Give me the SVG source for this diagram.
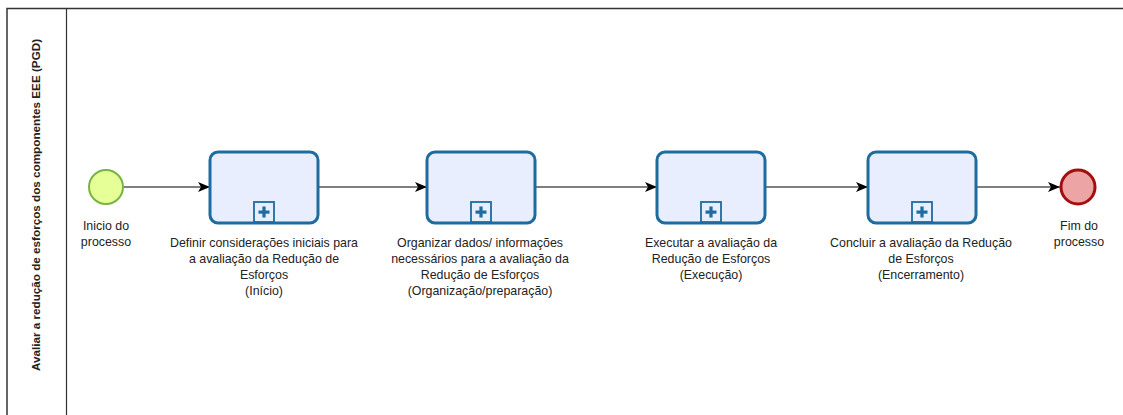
<svg xmlns="http://www.w3.org/2000/svg" width="1123" height="415" viewBox="0 0 1123 415">
<style>
.lbl{font-family:"Liberation Sans",Arial,sans-serif;font-size:12.4px;fill:#222;text-anchor:middle}
.task{fill:#e8eefd;stroke:#1e6b9e;stroke-width:3}
.mk{fill:#e8eefd;stroke:#1e6b9e;stroke-width:1.8}
.plus{fill:#1e6b9e}
.flow{stroke:#000;stroke-width:1.2;fill:none;marker-end:url(#arr)}
</style>
<defs>
<marker id="arr" viewBox="0 0 12 10" refX="12" refY="5" markerWidth="12" markerHeight="10" markerUnits="userSpaceOnUse" orient="auto">
<path d="M0,0 L12,5 L0,10 L3,5 Z" fill="#000"/>
</marker>
<g id="sub">
<rect class="mk" x="-10" y="-21" width="20" height="20"/>
<rect class="plus" x="-5.5" y="-12.5" width="11" height="3.2"/>
<rect class="plus" x="-1.6" y="-16.5" width="3.2" height="11"/>
</g>
</defs>
<rect width="1123" height="415" fill="#fff"/>
<g id="pool">
<path d="M7,415 V8.5 H1123" fill="none" stroke="#333" stroke-width="1.5"/>
<line x1="66.5" y1="8.5" x2="66.5" y2="415" stroke="#333" stroke-width="1.2"/>
<text transform="translate(40,205) rotate(-90)" style="font-family:'Liberation Sans',Arial,sans-serif;font-size:11.7px;font-weight:bold;fill:#222;text-anchor:middle">Avaliar a redução de esforços dos componentes EEE (PGD)</text>
</g>
<g id="connectors">
<line class="flow" x1="124" y1="187" x2="210" y2="187"/>
<line class="flow" x1="318" y1="187" x2="427" y2="187"/>
<line class="flow" x1="535" y1="187" x2="657" y2="187"/>
<line class="flow" x1="765" y1="187" x2="868" y2="187"/>
<line class="flow" x1="976" y1="187" x2="1060" y2="187"/>
</g>
<g id="start">
<circle cx="106" cy="187" r="17" fill="#e6ff97" stroke="#78b443" stroke-width="2"/>
<text class="lbl" x="106" y="230">Inicio do</text>
<text class="lbl" x="106" y="246">processo</text>
</g>
<g id="task1">
<rect class="task" x="210" y="152" width="108" height="71" rx="8"/>
<use href="#sub" x="264" y="223"/>
<text class="lbl" x="264" y="247">Definir considerações iniciais para</text>
<text class="lbl" x="264" y="263">a avaliação da Redução de</text>
<text class="lbl" x="264" y="279">Esforços</text>
<text class="lbl" x="264" y="295">(Início)</text>
</g>
<g id="task2">
<rect class="task" x="427" y="152" width="108" height="71" rx="8"/>
<use href="#sub" x="481" y="223"/>
<text class="lbl" x="480" y="247">Organizar dados/ informações</text>
<text class="lbl" x="480" y="263">necessários para a avaliação da</text>
<text class="lbl" x="480" y="279">Redução de Esforços</text>
<text class="lbl" x="480" y="295">(Organização/preparação)</text>
</g>
<g id="task3">
<rect class="task" x="657" y="152" width="108" height="71" rx="8"/>
<use href="#sub" x="711" y="223"/>
<text class="lbl" x="711" y="247">Executar a avaliação da</text>
<text class="lbl" x="711" y="263">Redução de Esforços</text>
<text class="lbl" x="711" y="279">(Execução)</text>
</g>
<g id="task4">
<rect class="task" x="868" y="152" width="108" height="71" rx="8"/>
<use href="#sub" x="922" y="223"/>
<text class="lbl" x="921" y="247">Concluir a avaliação da Redução</text>
<text class="lbl" x="921" y="263">de Esforços</text>
<text class="lbl" x="921" y="279">(Encerramento)</text>
</g>
<g id="end">
<circle cx="1078" cy="187" r="17" fill="#eda4a4" stroke="#a30f0f" stroke-width="3"/>
<text class="lbl" x="1079" y="230">Fim do</text>
<text class="lbl" x="1079" y="246">processo</text>
</g>
</svg>
